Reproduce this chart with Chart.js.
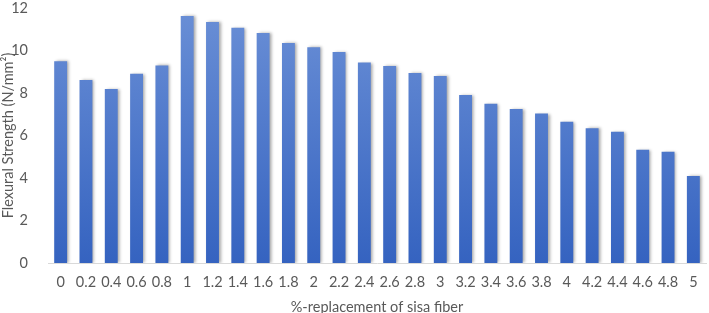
<!DOCTYPE html>
<html><head><meta charset="utf-8">
<script src="https://cdn.jsdelivr.net/npm/chart.js@4.4.0/dist/chart.umd.min.js"></script>
<style>html,body{margin:0;padding:0;background:#fff}</style>
</head><body>
<canvas id="c" width="709" height="313"></canvas>
<script>
const categories = ["0","0.2","0.4","0.6","0.8","1","1.2","1.4","1.6","1.8","2","2.2","2.4","2.6","2.8","3","3.2","3.4","3.6","3.8","4","4.2","4.4","4.6","4.8","5"];
const flexuralStrength = [9.5,8.61,8.19,8.91,9.3,11.62,11.34,11.07,10.82,10.35,10.15,9.93,9.43,9.27,8.94,8.8,7.91,7.5,7.25,7.03,6.65,6.34,6.18,5.33,5.24,4.09];
const yTicks = [0,2,4,6,8,10,12];

const shadowPlugin = {
  id:'shadow',
  beforeDatasetsDraw(chart){const c=chart.ctx;c.save();c.shadowColor='rgba(0,0,0,0.35)';c.shadowBlur=3;c.shadowOffsetX=2;c.shadowOffsetY=0;},
  afterDatasetsDraw(chart){chart.ctx.restore();}
};
const F = {family:'Lato',size:14.5};
new Chart(document.getElementById('c'), {
  type:'bar',
  data:{labels:categories,datasets:[{data:flexuralStrength,
    backgroundColor(ctx){
      const ch=ctx.chart, a=ch.chartArea; if(!a) return '#4472c4';
      const g=ch.ctx.createLinearGradient(0,a.top,0,a.bottom);
      g.addColorStop(0,'#6a8fd6');g.addColorStop(1,'#3563c0');return g;},
    barPercentage:0.51,categoryPercentage:1}]},
  options:{responsive:false,animation:false,
    layout:{padding:{left:0,right:3,top:8,bottom:0}},
    plugins:{legend:{display:false},tooltip:{enabled:false}},
    scales:{
      x:{grid:{display:false},border:{color:'#d9d9d9',width:1},
        afterFit(s){s.height=50;},
        ticks:{color:'#595959',font:F,maxRotation:0,autoSkip:false,padding:3},
        title:{display:true,text:'%-replacement of sisa fiber',color:'#595959',font:F,padding:{top:3,bottom:-3}}},
      y:{min:0,max:12,afterBuildTicks(s){s.ticks=yTicks.map(v=>({value:v}));},
        afterFit(s){s.width=48;s.paddingTop=0;s.paddingBottom=0;},
        grid:{display:false},border:{display:false},
        ticks:{color:'#595959',font:F,padding:12},
        title:{display:true,text:'Flexural Strength (N/mm\u00B2)',color:'#595959',font:F,padding:{top:0,bottom:2}}}
    }},
  plugins:[shadowPlugin]
});
</script>
</body></html>
